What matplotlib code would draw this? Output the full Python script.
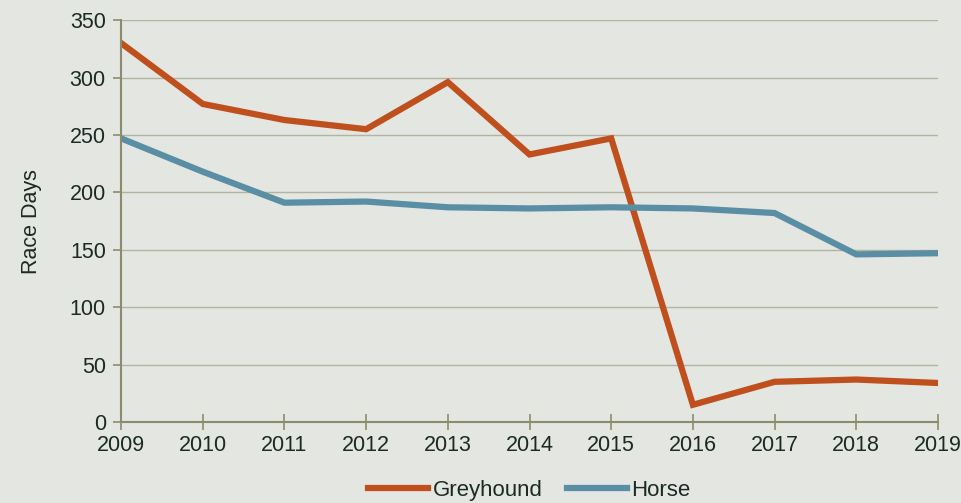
import matplotlib.pyplot as plt

years = list(range(2009, 2020))
greyhound = [330, 277, 263, 255, 296, 233, 247, 15, 35, 37, 34]
horse = [247, 218, 191, 192, 187, 186, 187, 186, 182, 146, 147]
y_ticks = [0, 50, 100, 150, 200, 250, 300, 350]

plt.rcParams['font.family'] = ['Liberation Sans', 'DejaVu Sans']

bg = '#e3e6e1'
fig = plt.figure(figsize=(9.61, 5.03), dpi=100, facecolor=bg)
ax = fig.add_axes([0.126, 0.161, 0.850, 0.799], facecolor=bg)

ax.plot(years, greyhound, color='#bf4f1c', lw=4.5, label='Greyhound', solid_joinstyle='miter')
ax.plot(years, horse, color='#5a8ea4', lw=4.5, label='Horse', solid_joinstyle='miter')

ax.set_xlim(2009, 2019)
ax.set_ylim(0, 350)
ax.set_yticks(y_ticks)
ax.set_xticks(years)
ax.grid(axis='y', color='#b3b3a0', lw=1)
ax.set_axisbelow(True)

for s in ['top', 'right']:
    ax.spines[s].set_visible(False)
for s in ['left', 'bottom']:
    ax.spines[s].set_color('#8c8c6c')
    ax.spines[s].set_linewidth(1.5)

ax.tick_params(axis='y', direction='out', length=6, color='#8c8c6c', width=1.2,
               labelsize=15.5, labelcolor='#1c2a26', pad=5)
ax.tick_params(axis='x', direction='inout', length=12, color='#8c8c6c', width=1.2,
               labelsize=15.5, labelcolor='#1c2a26', pad=3)
ax.set_ylabel('Race Days', fontsize=15.5, color='#1c2a26', labelpad=20)

leg = ax.legend(loc='center', bbox_to_anchor=(0.5, -0.17), ncol=2, frameon=False,
                fontsize=16, handlelength=2.7, handletextpad=0.2, columnspacing=1.1,
                borderpad=0)
for t in leg.get_texts():
    t.set_color('#1c2a26')

fig.savefig('out.png', dpi=100, facecolor=bg)
